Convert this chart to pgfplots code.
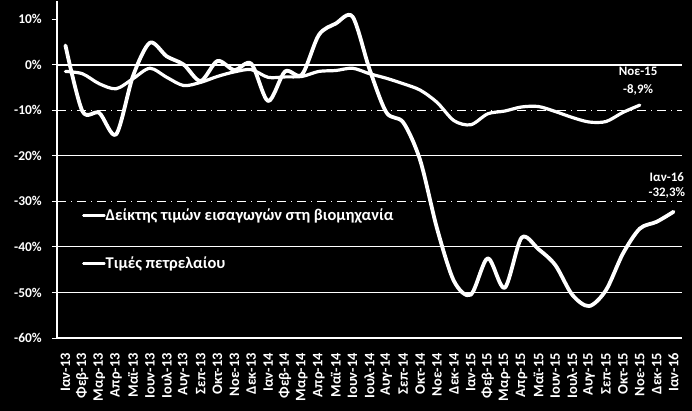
\documentclass[border=0pt]{standalone}
\usepackage{fontspec}
\setmainfont{Carlito}
\usepackage{pgfplots}
\pgfplotsset{compat=1.18}
\usepackage{pgfplotstable}

% import price index for industry, Jan-13 .. Nov-15
\pgfplotstableread{
x y
0 -1.5
1 -2.0
2 -4.2
3 -5.3
4 -3.1
5 -0.8
6 -2.8
7 -4.6
8 -3.9
9 -2.6
10 -1.6
11 -1.1
12 -2.8
13 -2.7
14 -2.6
15 -1.5
16 -1.3
17 -0.8
18 -2.0
19 -3.0
20 -4.2
21 -5.6
22 -8.3
23 -12.3
24 -13.2
25 -10.8
26 -10.2
27 -9.3
28 -9.2
29 -10.3
30 -11.6
31 -12.6
32 -12.5
33 -10.5
34 -8.9
}\indextable

% oil prices, Jan-13 .. Jan-16
\pgfplotstableread{
x y
0 4.2
1 -10.2
2 -10.6
3 -15.3
4 -2.5
5 4.8
6 1.8
7 0.0
8 -3.6
9 0.8
10 -1.2
11 0.2
12 -8.0
13 -1.5
14 -2.2
15 6.5
16 9.0
17 10.5
18 -1.0
19 -10.5
20 -12.7
21 -21.0
22 -36.0
23 -47.5
24 -50.5
25 -42.5
26 -49.0
27 -38.0
28 -40.5
29 -44.0
30 -50.5
31 -53.0
32 -49.5
33 -41.5
34 -36.0
35 -34.5
36 -32.3
}\oiltable

\begin{document}
\begin{tikzpicture}
\fill[black] (0,0) rectangle (692bp,411bp);
\begin{axis}[
    at={(57bp,73bp)}, anchor=south west,
    scale only axis, width=625bp, height=337.2bp,
    xmin=-0.5, xmax=36.5, ymin=-60, ymax=14,
    axis x line*=bottom, axis y line*=left,
    axis line style={white, line width=1.5bp, -},
    ytick={-60,-50,...,10},
    yticklabels={-60\%,-50\%,-40\%,-30\%,-20\%,-10\%,0\%,10\%},
    xtick={0,...,36},
    xticklabels={Ιαν-13,Φεβ-13,Μαρ-13,Απρ-13,Μαϊ-13,Ιουν-13,Ιουλ-13,Αυγ-13,Σεπ-13,Οκτ-13,Νοε-13,Δεκ-13,
                 Ιαν-14,Φεβ-14,Μαρ-14,Απρ-14,Μαϊ-14,Ιουν-14,Ιουλ-14,Αυγ-14,Σεπ-14,Οκτ-14,Νοε-14,Δεκ-14,
                 Ιαν-15,Φεβ-15,Μαρ-15,Απρ-15,Μαϊ-15,Ιουν-15,Ιουλ-15,Αυγ-15,Σεπ-15,Οκτ-15,Νοε-15,Δεκ-15,
                 Ιαν-16},
    tick align=outside,
    major tick length=5bp,
    y tick style={white, line width=1bp},
    x tick style={draw=none},
    tick label style={white, inner sep=0pt},
    yticklabel style={anchor=east, font=\fontsize{13.5}{13.5}\selectfont\bfseries},
    xticklabel style={rotate=90, anchor=east, font=\fontsize{14.5}{14.5}\selectfont\bfseries},
    xticklabel shift=10bp, yticklabel shift=10bp,
    clip=false,
    legend style={at={(0.04,0.292)}, anchor=west, draw=none, fill=none,
        text=white, font=\fontsize{16.5}{16.5}\selectfont\bfseries,
        inner sep=0pt, row sep=35bp, nodes={inner sep=0pt}},
    legend cell align=left,
    legend image code/.code={\draw[white, line width=2.5bp] (0bp,0bp) -- (21bp,0bp);},
]
\draw[white, line width=2bp] (axis cs:-0.5,0) -- (axis cs:36.5,0);
\draw[white, line width=0.8bp] (axis cs:-0.5,-20) -- (axis cs:36.5,-20);
\draw[white, line width=0.8bp] (axis cs:-0.5,-40) -- (axis cs:36.5,-40);
\draw[white, line width=0.8bp] (axis cs:-0.5,-50) -- (axis cs:36.5,-50);
\draw[white, line width=0.6bp, dash pattern=on 9bp off 5bp on 1bp off 5bp] (axis cs:-0.5,-10) -- (axis cs:36.5,-10);
\draw[white, line width=0.6bp, dash pattern=on 9bp off 5bp on 1bp off 5bp] (axis cs:-0.5,-30) -- (axis cs:36.5,-30);

\addplot[white, line width=3.2bp, smooth, line cap=round, line join=round] table {\indextable};
\addlegendentry{Δείκτης τιμών εισαγωγών στη βιομηχανία}
\addplot[white, line width=3.8bp, smooth, line cap=round, line join=round] table {\oiltable};
\addlegendentry{Τιμές πετρελαίου}

\node[white, font=\fontsize{13}{13}\selectfont\bfseries] at (axis cs:33.9,-1.5) {Νοε-15};
\node[white, font=\fontsize{13}{13}\selectfont\bfseries] at (axis cs:33.9,-5.5) {-8,9\%};
\node[white, font=\fontsize{13}{13}\selectfont\bfseries] at (axis cs:35.6,-24.8) {Ιαν-16};
\node[white, font=\fontsize{13}{13}\selectfont\bfseries] at (axis cs:35.6,-28.1) {-32,3\%};
\end{axis}
\pgfresetboundingbox
\useasboundingbox (0,0) rectangle (692bp,411bp);
\end{tikzpicture}
\end{document}
